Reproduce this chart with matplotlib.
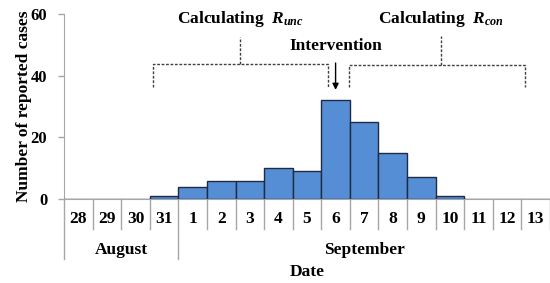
import numpy as np
import matplotlib
matplotlib.use("Agg")
import matplotlib.pyplot as plt
import matplotlib.transforms as mtransforms

plt.rcParams['font.family'] = 'Liberation Serif'
plt.rcParams['font.weight'] = 'bold'
plt.rcParams['axes.labelweight'] = 'bold'
plt.rcParams['mathtext.fontset'] = 'custom'
plt.rcParams['mathtext.it'] = 'Liberation Serif:italic:bold'
plt.rcParams['mathtext.rm'] = 'Liberation Serif:bold'

# data
days = ['28', '29', '30', '31', '1', '2', '3', '4', '5', '6', '7', '8', '9', '10', '11', '12', '13']
cases = [0, 0, 0, 1, 4, 6, 6, 10, 9, 32, 25, 15, 7, 1, 0, 0, 0]
months = ['August', 'September']
month_first = [0, 4]  # index of first day in each month

x = np.arange(len(days))

fig = plt.figure(figsize=(5.5, 2.83), dpi=100)
ax = fig.add_axes([64/550, 84/283, 486/550, 185/283])

ax.bar(x, cases, width=1.0, color='#558ED5', edgecolor='#1F2A44', linewidth=1.0, zorder=3)

ax.set_xlim(-0.5, len(days) - 0.5)
ax.set_ylim(0, 60)
ax.set_yticks([0, 20, 40, 60])
ax.tick_params(axis='y', labelsize=12, length=4, color='#A6A6A6', width=1, pad=8)
ax.set_xticks([])
for s in ['top', 'right']:
    ax.spines[s].set_visible(False)
ax.spines['left'].set_color('#A6A6A6')
ax.spines['bottom'].set_color('#A6A6A6')
ax.set_ylabel('Number of reported cases', fontsize=12.5, labelpad=-1)

# category axis with day and month rows
trans = mtransforms.blended_transform_factory(ax.transData, ax.transAxes)
for i, d in enumerate(days):
    ax.text(x[i], -0.108, d, transform=trans, ha='center', va='center', fontsize=12.5)
for i in range(len(days) + 1):
    edge = i - 0.5
    bottom = -0.324 if (i in month_first) else -0.162
    ax.plot([edge, edge], [0, bottom], transform=trans, color='#A6A6A6', lw=1, clip_on=False)
month_last = month_first[1:] + [len(days)]
for m, a, b in zip(months, month_first, month_last):
    ax.text((a + b - 1) / 2, -0.276, m, transform=trans, ha='center', va='center', fontsize=12.5)
ax.text(0.5, -0.395, 'Date', transform=ax.transAxes, ha='center', va='center', fontsize=12.5)

# brackets
dash = dict(color='#404040', lw=1, ls=(0, (2, 1.2)), clip_on=False)
ax.plot([2.61, 2.61, 8.73, 8.73], [36.2, 43.7, 43.7, 36.2], **dash)
ax.plot([5.67, 5.67], [43.7, 52.5], **dash)
ax.plot([9.47, 9.47, 15.62, 15.62], [36.2, 43.5, 43.5, 36.2], **dash)
ax.plot([12.68, 12.68], [43.5, 52.8], **dash)
ax.text(5.67, 58.5, r'Calculating  $R_{unc}$', ha='center', va='center', fontsize=12.5)
ax.text(12.68, 58.5, r'Calculating  $R_{con}$', ha='center', va='center', fontsize=12.5)
ax.text(9, 49.5, 'Intervention', ha='center', va='center', fontsize=12.5)
ax.annotate('', xy=(9, 34.5), xytext=(9, 45),
            arrowprops=dict(arrowstyle='-|>', color='black', lw=1, mutation_scale=9))

fig.savefig('out.png', dpi=100)
